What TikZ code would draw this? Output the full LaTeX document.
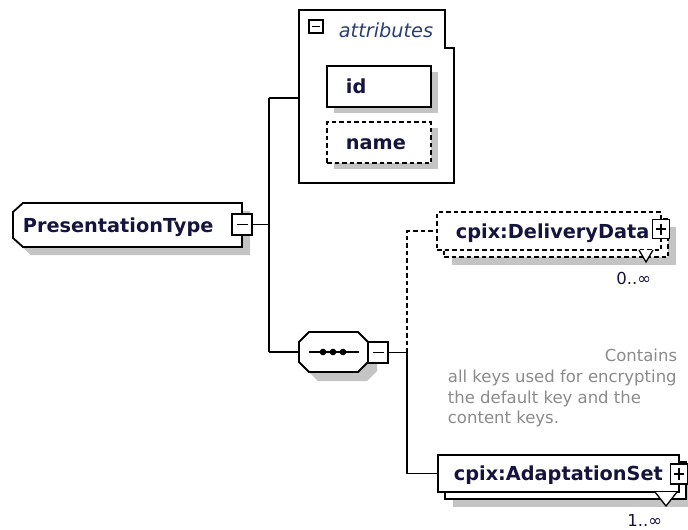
\documentclass[tikz,border=0pt]{standalone}
\usepackage{fontspec}
\setmainfont{DejaVu Sans}
\usetikzlibrary{shadows}
\definecolor{ink}{HTML}{14143C}
\definecolor{attrink}{HTML}{2B3F6E}
\definecolor{shadowgray}{HTML}{C4C4C4}
\definecolor{note}{HTML}{8A8A8A}
\begin{document}
\begin{tikzpicture}[x=1pt,y=-1pt,line width=1.8pt,
  elem/.style={draw=black, fill=white, outer sep=0pt, inner sep=0pt},
  anchorbox/.style={draw=none, outer sep=0pt, inner sep=0pt},
  shadow8/.style={drop shadow={shadow xshift=8pt, shadow yshift=-8pt, fill=shadowgray, opacity=1}},
  shadow7/.style={drop shadow={shadow xshift=7pt, shadow yshift=-6pt, fill=shadowgray, opacity=1}},
  dashline/.style={dash pattern=on 4.5pt off 3pt},
  nametext/.style={font=\fontsize{19.3}{23}\bfseries, text=ink, inner sep=0pt},
  notetext/.style={font=\fontsize{16.5}{21}\selectfont, text=note, inner sep=0pt},
  occtext/.style={font=\fontsize{16.5}{21}\selectfont, text=ink, inner sep=0pt},
  pmbox/.style={draw=black, fill=white, line width=1.5pt, inner sep=0pt, outer sep=0pt},
  minusbox/.style={pmbox, path picture={\draw[line width=1.5pt] ([xshift=4.5pt]path picture bounding box.west) -- ([xshift=-4.5pt]path picture bounding box.east);}},
  plusbox/.style={pmbox, path picture={\draw[line width=1.5pt] ([xshift=3.5pt]path picture bounding box.west) -- ([xshift=-3.5pt]path picture bounding box.east) ([yshift=-4pt]path picture bounding box.north) -- ([yshift=4pt]path picture bounding box.south);}},
  vmark/.style={draw=black, fill=white, line width=1.3pt}
]
\useasboundingbox (0,0) rectangle (688,530);

% ---- PresentationType (chamfered on the left)
\node[anchorbox, minimum width=229pt, minimum height=44pt] (pt) at (127.5,225) {};
\fill[shadowgray] (31,211) -- (250,211) -- (250,255) -- (31,255) -- (21,246) -- (21,220) -- cycle;
\draw[fill=white] ([xshift=10pt]pt.north west) -- (pt.north east) -- (pt.south east)
   -- ([xshift=10pt]pt.south west) -- ([yshift=9pt]pt.south west) -- ([yshift=-9pt]pt.north west) -- cycle;
\node[nametext, anchor=base west] (ptname) at (22,232) {PresentationType};
\node[minusbox, minimum width=20pt, minimum height=21pt] (ptm) at (242,224.5) {};

% ---- trunk
\coordinate (jA) at (269,224.5);
\coordinate (jTop) at (269,98);
\coordinate (jBot) at (269,352);
\draw (ptm.east) -- (jA);
\draw (jTop) -- (jBot);

% ---- attributes
\node[anchorbox, minimum width=155pt, minimum height=173pt] (attrs) at (376.5,96.5) {};
\draw (299,10) -- (445,10) -- (445,48) -- (454,48) -- (454,183) -- (299,183) -- cycle;
\draw (jTop) -- (jTop -| attrs.west);
\node[minusbox, line width=1.4pt, minimum width=14pt, minimum height=13pt,
      path picture={\draw[line width=1.4pt] ([xshift=3pt]path picture bounding box.west) -- ([xshift=-3pt]path picture bounding box.east);}] (attm) at (316,26.5) {};
\node[font=\fontsize{19.3}{23}\itshape, text=attrink, inner sep=0pt, anchor=base west] (attlabel) at (338,37) {attributes};

\node[elem, shadow7, minimum width=104pt, minimum height=41pt] (idbox) at (379,86.5) {};
\node[nametext, anchor=base west] (idtext) at (345,93.5) {id};
\node[elem, shadow7, dashline, minimum width=104pt, minimum height=41pt] (namebox) at (379,142.5) {};
\node[nametext, anchor=base west] (nametxt) at (345,149.5) {name};

% ---- sequence (octagon)
\node[anchorbox, minimum width=69pt, minimum height=40pt] (seq) at (333.5,352) {};
\fill[shadowgray] (318,341) -- (367,341) -- (377,351) -- (377,371) -- (367,381) -- (318,381) -- (308,371) -- (308,351) -- cycle;
\draw[fill=white] ([xshift=10pt]seq.north west) -- ([xshift=-10pt]seq.north east) -- ([yshift=-10pt]seq.north east)
   -- ([yshift=10pt]seq.south east) -- ([xshift=-10pt]seq.south east) -- ([xshift=10pt]seq.south west)
   -- ([yshift=10pt]seq.south west) -- ([yshift=-10pt]seq.north west) -- cycle;
\draw[line width=1.4pt] ([xshift=10pt]seq.west) -- ([xshift=-9pt]seq.east);
\fill (323,352) circle (3.3pt) (333,352) circle (3.3pt) (343,352) circle (3.3pt);
\node[minusbox, minimum width=20pt, minimum height=21pt] (seqm) at (378,352.5) {};
\draw (jBot) -- (seq.west);

\coordinate (jS) at (407,352.5);
\coordinate (jD) at (407,231);
\coordinate (jAS) at (407,473.5);
\draw (seqm.east) -- (jS);

% ---- cpix:DeliveryData
\node[elem, shadow8, dashline, minimum width=224pt, minimum height=38pt] (ddb) at (556,238) {};
\node[elem, dashline, minimum width=224pt, minimum height=38pt] (ddf) at (549,231) {};
\node[nametext, anchor=base west] (ddtext) at (455,238) {cpix:DeliveryData};
\node[plusbox, minimum width=17pt, minimum height=19pt] (ddp) at (661,229) {};
\draw[vmark] ([xshift=-22pt]ddf.south east) -- ([xshift=-15pt,yshift=-12pt]ddf.south east) -- ([xshift=-8pt]ddf.south east);
\node[occtext, anchor=base east] (ddocc) at (652,284) {0..∞};
\draw[dashline] (jS) -- (jD) -- (ddf.west);

% ---- cpix:AdaptationSet
\node[elem, shadow8, minimum width=241pt, minimum height=37pt] (asb) at (565.5,480.5) {};
\node[elem, minimum width=241pt, minimum height=37pt] (asf) at (558.5,473.5) {};
\node[nametext, anchor=base west] (astext) at (453,480.5) {cpix:AdaptationSet};
\node[plusbox, minimum width=17pt, minimum height=20pt] (asp) at (679,474) {};
\draw[vmark] ([xshift=-24pt]asf.south east) -- ([xshift=-13pt,yshift=-14pt]asf.south east) -- ([xshift=-2pt]asf.south east);
\node[occtext, anchor=base east] (asocc) at (663,526) {1..∞};
\draw (jS) -- (jAS) -- (asf.west);

% ---- documentation
\node[notetext, anchor=base east] (n1) at (678,361) {Contains};
\node[notetext, anchor=base west] (n2) at (447,382) {all keys used for encrypting};
\node[notetext, anchor=base west] (n3) at (447,403) {the default key and the};
\node[notetext, anchor=base west] (n4) at (447,423) {content keys.};
\end{tikzpicture}
\end{document}
